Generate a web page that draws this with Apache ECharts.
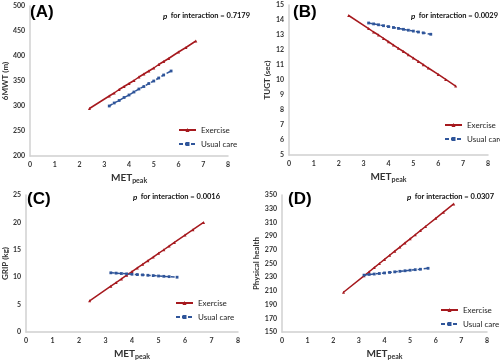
<!DOCTYPE html>
<html>
<head>
<meta charset="utf-8">
<script src="https://cdn.jsdelivr.net/npm/echarts@6/dist/echarts.min.js"></script>
<style>html,body{margin:0;padding:0;background:#fff}#c{width:500px;height:361px}</style>
</head>
<body>
<div id="c"></div>
<script>
// MET_peak positions of the plotted points
const exX = [2.4, 3.2, 3.4, 3.6, 3.8, 4.0, 4.2, 4.4, 4.6, 4.8, 5.0, 5.2, 5.4, 5.6, 6.0, 6.3, 6.7];
const ucX = [3.2, 3.4, 3.6, 3.8, 4.0, 4.2, 4.4, 4.6, 4.8, 5.0, 5.2, 5.4, 5.7];

// (A) 6MWT (m)
const aEx = [295, 320, 326, 333, 339, 345, 351, 358, 364, 370, 376, 383, 389, 395, 408, 417, 430];
const aUc = [300, 306, 311, 317, 322, 328, 334, 339, 345, 350, 356, 362, 370];
// (B) TUGT (sec)
const bEx = [14.3, 13.43, 13.2, 13.0, 12.77, 12.55, 12.33, 12.11, 11.9, 11.68, 11.46, 11.24, 11.02, 10.8, 10.37, 10.04, 9.6];
const bUc = [13.8, 13.74, 13.68, 13.62, 13.56, 13.5, 13.44, 13.38, 13.32, 13.26, 13.2, 13.14, 13.05];
// (C) GRIP (kg)
const cEx = [5.7, 8.36, 9.03, 9.69, 10.36, 11.02, 11.69, 12.35, 13.02, 13.68, 14.35, 15.01, 15.68, 16.35, 17.68, 18.67, 20.0];
const cUc = [10.8, 10.74, 10.67, 10.61, 10.54, 10.48, 10.42, 10.35, 10.29, 10.22, 10.16, 10.1, 10.0];
// (D) Physical health
const dEx = [208, 232, 238, 244, 250, 256, 262, 268, 274, 280, 286, 292, 298, 304, 316, 325, 337];
const dUc = [233, 234, 234.6, 235.4, 236.2, 237, 237.8, 238.6, 239.4, 240.2, 241, 241.6, 243];

const panelLabels = ['(A)', '(B)', '(C)', '(D)'];
const yTitles = ['6MWT (m)', 'TUGT (sec)', 'GRIP (kg)', 'Physical health'];
const pTexts = ['0.7179', '0.0029', '0.0016', '0.0307'];
const yRanges = [[200, 500, 50], [5, 15, 1], [0, 25, 5], [150, 350, 20]];

const grids = [
  {left: 27, top: 6, width: 201, height: 150},
  {left: 289, top: 5, width: 199, height: 150},
  {left: 23, top: 195, width: 215, height: 142},
  {left: 282, top: 195, width: 205, height: 140}
];
const yNameGap = [19, 18, 16, 21];
const legendPos = [{left: 178, top: 126}, {left: 444, top: 121}, {left: 175, top: 299}, {left: 440, top: 306}];
const pPos = [{x: 163, y: 10}, {x: 411, y: 10}, {x: 133, y: 191}, {x: 407, y: 191}];
const letterPos = [{x: 30, y: 4}, {x: 293, y: 4}, {x: 27, y: 191}, {x: 288, y: 191}];

const exData = [aEx, bEx, cEx, dEx];
const ucData = [aUc, bUc, cUc, dUc];

const FONT = 'Lato, "Open Sans", sans-serif';
const axisCol = '#d0d0d0';
const red = '#A6191E';
const blue = '#2F559A';

const xAxes = [], yAxes = [], series = [], legends = [], graphics = [];
for (let i = 0; i < 4; i++) {
  xAxes.push({
    gridIndex: i, type: 'value', min: 0, max: 8, interval: 1,
    axisLine: {show: true, lineStyle: {color: axisCol, width: 1.5}},
    axisTick: {show: false}, splitLine: {show: false},
    axisLabel: {fontSize: 7, color: '#333', fontFamily: FONT, margin: 5, fontWeight: 'bold'},
    name: '{a|MET}{b|peak}', nameLocation: 'middle', nameGap: 15,
    nameTextStyle: {
      rich: {
        a: {fontSize: 10, fontWeight: 'bold', color: '#333', fontFamily: FONT},
        b: {fontSize: 7, fontWeight: 'bold', color: '#333', fontFamily: FONT, padding: [6, 0, 0, 0]}
      }
    }
  });
  yAxes.push({
    gridIndex: i, type: 'value', min: yRanges[i][0], max: yRanges[i][1], interval: yRanges[i][2],
    axisLine: {show: true, lineStyle: {color: axisCol, width: 1.5}},
    axisTick: {show: false}, splitLine: {show: false},
    axisLabel: {fontSize: 7, color: '#333', fontFamily: FONT, margin: 5, fontWeight: 'bold'},
    name: yTitles[i], nameLocation: 'middle', nameGap: yNameGap[i], nameRotate: 90,
    nameTextStyle: {fontSize: 8, color: '#333', fontFamily: FONT, fontWeight: 'bold'}
  });
  series.push({
    name: 'Exercise', type: 'line', xAxisIndex: i, yAxisIndex: i,
    data: exX.map((x, k) => [x, exData[i][k]]),
    symbol: 'triangle', symbolSize: 3, showSymbol: true,
    lineStyle: {color: red, width: 1.5}, itemStyle: {color: red},
    animation: false
  });
  series.push({
    name: 'Usual care', type: 'line', xAxisIndex: i, yAxisIndex: i,
    data: ucX.map((x, k) => [x, ucData[i][k]]),
    symbol: 'rect', symbolSize: 2.8, showSymbol: true,
    lineStyle: {color: blue, width: 1.5, type: [4, 2]}, itemStyle: {color: blue},
    animation: false
  });
  legends.push({
    orient: 'vertical', left: legendPos[i].left, top: legendPos[i].top,
    itemWidth: 17, itemHeight: 5, itemGap: 6, padding: 0,
    data: ['Exercise', 'Usual care'], selectedMode: false,
    textStyle: {fontSize: 8, color: '#222', fontFamily: FONT}
  });
  graphics.push({
    type: 'text', left: letterPos[i].x, top: letterPos[i].y,
    style: {text: panelLabels[i], font: 'bold 17px Arial, "Liberation Sans", sans-serif', fill: '#000'}
  });
  graphics.push({
    type: 'text', left: pPos[i].x, top: pPos[i].y,
    style: {
      text: '{p|p} {t|for interaction = ' + pTexts[i] + '}',
      rich: {
        p: {fontSize: 8, fontStyle: 'italic', fontWeight: 'bold', fill: '#111', fontFamily: FONT},
        t: {fontSize: 7.5, fontWeight: 'bold', fill: '#111', fontFamily: FONT}
      }
    }
  });
}

const chart = echarts.init(document.getElementById('c'), null, {renderer: 'canvas'});
chart.setOption({
  animation: false,
  grid: grids,
  xAxis: xAxes,
  yAxis: yAxes,
  series: series,
  legend: legends,
  graphic: graphics
});
</script>
</body>
</html>
